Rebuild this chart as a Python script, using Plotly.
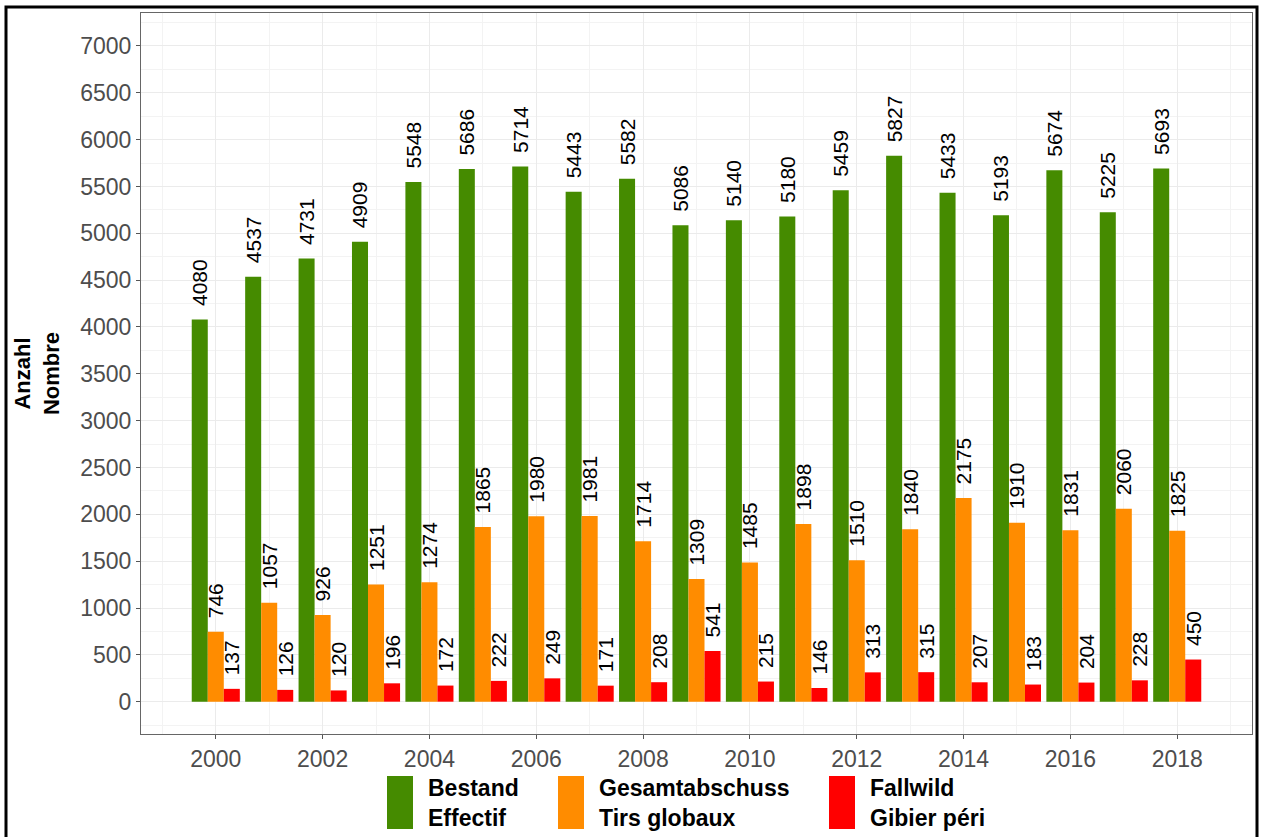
import plotly.graph_objects as go

years = list(range(2000, 2019))
bestand = [4080, 4537, 4731, 4909, 5548, 5686, 5714, 5443, 5582, 5086,
           5140, 5180, 5459, 5827, 5433, 5193, 5674, 5225, 5693]
abschuss = [746, 1057, 926, 1251, 1274, 1865, 1980, 1981, 1714, 1309,
            1485, 1898, 1510, 1840, 2175, 1910, 1831, 2060, 1825]
fallwild = [137, 126, 120, 196, 172, 222, 249, 171, 208, 541,
            215, 146, 313, 315, 207, 183, 204, 228, 450]

series_names = ["Bestand<br>Effectif", "Gesamtabschuss<br>Tirs globaux", "Fallwild<br>Gibier péri"]
series_colors = ["#458B00", "#FF8C00", "#FF0000"]
series_values = [bestand, abschuss, fallwild]

y_ticks = list(range(0, 7001, 500))
x_ticks = list(range(2000, 2019, 2))

FONT = "Liberation Sans, Arial, Helvetica, sans-serif"

W, H = 1263, 837
L, R, T, B = 141, 11, 13, 103
PW, PH = W - L - R, H - T - B

def px(x):
    return (x - L) / PW

def py(y):
    return (H - B - y) / PH

fig = go.Figure()
for name, col, vals in zip(series_names, series_colors, series_values):
    fig.add_trace(go.Bar(
        x=years, y=vals, name=name, marker_color=col, marker_line_width=0,
        text=["\u2002" + str(v) for v in vals], textposition="outside",
        textangle=-90, constraintext="none", cliponaxis=False,
        textfont=dict(family=FONT, size=21, color="black"),
        showlegend=False,
    ))

shapes = []
annotations = []
# legend (custom tall swatches)
leg_x = [387, 558, 829]
for lx, name, col in zip(leg_x, series_names, series_colors):
    shapes.append(dict(type="rect", xref="paper", yref="paper",
                       x0=px(lx), x1=px(lx + 26), y0=py(829), y1=py(776),
                       fillcolor=col, line=dict(width=0)))
    annotations.append(dict(xref="paper", yref="paper", x=px(lx + 39), y=py(803),
                            xanchor="left", yanchor="middle", showarrow=False, align="left",
                            text="<b>" + name + "</b>",
                            font=dict(family=FONT, size=23, color="black")))
# outer black frame
shapes.append(dict(type="rect", xref="paper", yref="paper",
                   x0=px(6), x1=px(1257), y0=py(850), y1=py(7),
                   line=dict(color="black", width=3), fillcolor="rgba(0,0,0,0)", layer="above"))

fig.update_layout(
    width=W, height=H,
    margin=dict(l=L, r=R, t=T, b=B),
    paper_bgcolor="white", plot_bgcolor="white",
    barmode="group", bargap=0.1, bargroupgap=0,
    font=dict(family=FONT),
    shapes=shapes, annotations=annotations,
    xaxis=dict(range=[1998.6, 2019.4], tickvals=x_ticks, ticktext=[str(t) for t in x_ticks],
               showgrid=True, gridcolor="#EBEBEB", gridwidth=1.2,
               minor=dict(dtick=1, tick0=1999, showgrid=True, gridcolor="#F3F3F3", gridwidth=0.8),
               ticks="outside", ticklen=4, tickcolor="#555555",
               showline=True, linecolor="#666666", linewidth=1.2, mirror=True,
               tickfont=dict(family=FONT, size=23, color="#4D4D4D"), zeroline=False),
    yaxis=dict(range=[-345, 7352], tickvals=y_ticks, ticktext=[str(t) for t in y_ticks],
               showgrid=True, gridcolor="#EBEBEB", gridwidth=1.2,
               minor=dict(dtick=250, tick0=-250, showgrid=True, gridcolor="#F3F3F3", gridwidth=0.8),
               ticks="outside", ticklen=4, tickcolor="#555555",
               showline=True, linecolor="#666666", linewidth=1.2, mirror=True,
               tickfont=dict(family=FONT, size=23, color="#4D4D4D"), zeroline=False,
               title=dict(text="<b>Anzahl<br>Nombre</b>", standoff=14,
                          font=dict(family=FONT, size=22, color="black"))),
)

fig.write_html("out.html", config={"displayModeBar": False},
               post_script="document.body.style.margin='0px';")
